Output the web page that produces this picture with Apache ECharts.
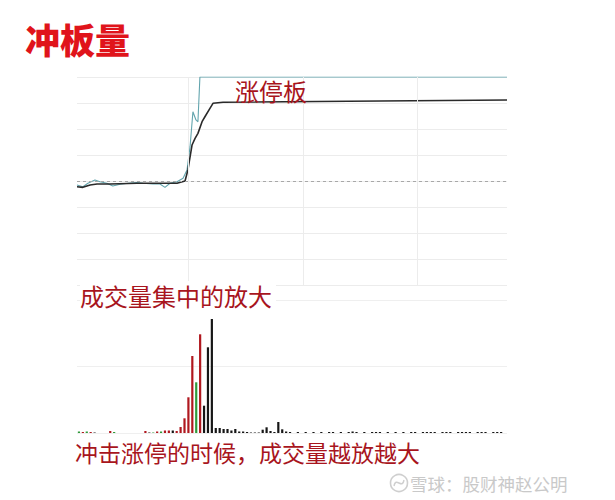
<!DOCTYPE html>
<html>
<head>
<meta charset="utf-8">
<script src="https://cdn.jsdelivr.net/npm/echarts@6/dist/echarts.min.js"></script>
<style>
html,body{margin:0;padding:0;background:#fff;}
#c{width:615px;height:500px;}
</style>
</head>
<body>
<div id="c"></div>
<script>
// ---- data ----
// price line (teal): minute of session, % change vs previous close
const priceMin = [0, 3.3, 6.1, 10, 12.8, 16.7, 20, 24, 28.5, 33.5, 36.8, 42.4, 46.3, 49.1, 51.9, 55.8, 59.2, 61.4, 63.1, 64.7, 66.4, 67.5, 68.6, 240];
const pricePct = [-0.38, -0.55, -0.22, 0.10, -0.07, -0.22, -0.48, -0.32, -0.22, -0.16, -0.22, -0.29, -0.29, -0.61, -0.22, -0.07, 0.26, 1.06, 3.30, 6.66, 5.87, 5.70, 10.0, 10.0];
// average price line (black)
const avgMin = [0, 3.3, 7.3, 11.2, 18.4, 33.5, 48, 55.8, 60.3, 61.9, 64.2, 65.9, 67.5, 69.8, 71.4, 74.2, 75.9, 81.5, 240];
const avgPct = [-0.55, -0.61, -0.38, -0.29, -0.29, -0.22, -0.22, -0.22, 0, 1.06, 3.46, 4.1, 4.58, 5.7, 6.18, 6.99, 7.47, 7.57, 7.79];
// time grid lines (minutes)
const timeLines = [62, 126, 190];
// volume bars (relative units) and direction (1 up, -1 down, 0 flat)
const volValues = [
  1.5,1,1.5,1,0.5,0,0,0,2,1,
  0,0,0,0,0,0,0,2,0.5,0.5,
  1.5,1.5,2.5,2.5,2.5,2,6,14.7,35.7,77,
  50.7,98.7,27.3,85.7,114,5,5,4,4,2.5,
  4,1.5,1.5,1,0.5,0.5,0.5,3.3,5.7,2,
  1,11,3.7,1.5,1,0,1,0,1,0,
  1,0,1,0,1,1,0,1,0,1,
  1.5,1,0,1,0,1,1,1,0,1,
  0,1,0,1,0,1,1,0,1,1,
  1,1,0,1,1,1,0,1,1,1,
  1,0,1,1,1,0,1,1,1,0
];
const volDir = [
  -1,1,-1,1,0,0,0,0,1,-1,
  0,0,0,0,0,0,0,1,0,-1,
  1,-1,1,1,0,1,1,1,1,1,
  -1,1,0,0,0,0,0,0,0,0,
  0,0,0,0,0,0,0,0,0,0,
  0,0,0,0,0,0,0,0,0,0,
  0,0,0,0,0,0,0,0,0,0,
  0,0,0,0,0,0,0,0,0,0,
  0,0,0,0,0,0,0,0,0,0,
  0,0,0,0,0,0,0,0,0,0,
  0,0,0,0,0,0,0,0,0,0
];
const volCats = volValues.map((v, i) => String(i));

const titleText = '冲板量';
const noteLimit = '涨停板';
const noteVolume = '成交量集中的放大';
const noteBottom = '冲击涨停的时候，成交量越放越大';
const watermark = '雪球：股财神赵公明';

// ---- chart ----
const FONT = '"Noto Sans CJK SC", "Noto Sans", sans-serif';
const dirColor = d => d > 0 ? '#b0181f' : (d < 0 ? '#2f9a3a' : '#161616');

const chart = echarts.init(document.getElementById('c'), null, {renderer: 'svg'});
chart.setOption({
  animation: false,
  backgroundColor: '#ffffff',
  title: {
    text: titleText, left: 20, top: 16,
    textStyle: {fontFamily: FONT, fontSize: 35, fontWeight: 900, color: '#e0141b'}
  },
  grid: [
    {left: 77, top: 77, width: 430, height: 208},
    {left: 77, top: 300, width: 430, height: 133}
  ],
  xAxis: [
    {type: 'value', gridIndex: 0, min: 0, max: 240,
     axisLine: {show: false}, axisTick: {show: false}, axisLabel: {show: false}, splitLine: {show: false}},
    {type: 'category', gridIndex: 1, data: volCats, boundaryGap: true,
     axisLine: {show: false}, axisTick: {show: false}, axisLabel: {show: false}, splitLine: {show: false}}
  ],
  yAxis: [
    {type: 'value', gridIndex: 0, min: -10, max: 10, interval: 2.5,
     axisLine: {show: false}, axisTick: {show: false}, axisLabel: {show: false},
     splitLine: {show: true, lineStyle: {color: '#ececec', width: 1}}},
    {type: 'value', gridIndex: 1, min: 0, max: 133, interval: 66.5,
     axisLine: {show: false}, axisTick: {show: false}, axisLabel: {show: false},
     splitLine: {show: true, lineStyle: {color: '#efefef', width: 1}}}
  ],
  series: [
    {
      type: 'line', xAxisIndex: 0, yAxisIndex: 0, z: 3,
      showSymbol: false, symbol: 'none',
      data: priceMin.map((m, i) => [m, pricePct[i]]),
      lineStyle: {color: '#62a4ad', width: 1.1},
      markLine: {
        silent: true, symbol: 'none', label: {show: false}, animation: false,
        data: timeLines.map(t => ({xAxis: t, lineStyle: {color: '#ececec', width: 1, type: 'solid'}}))
          .concat([{yAxis: 0, lineStyle: {color: '#a8a8a8', width: 1, type: [3, 3]}}])
      }
    },
    {
      type: 'line', xAxisIndex: 0, yAxisIndex: 0, z: 4,
      showSymbol: false, symbol: 'none',
      data: avgMin.map((m, i) => [m, avgPct[i]]),
      lineStyle: {color: '#2a2a2a', width: 1.6}
    },
    {
      type: 'bar', xAxisIndex: 1, yAxisIndex: 1, barWidth: 2.2,
      data: volValues.map((v, i) => ({value: v, itemStyle: {color: dirColor(volDir[i])}}))
    }
  ],
  graphic: [
    {type: 'text', x: 235, y: 90, z: 10,
     style: {text: noteLimit, fill: '#a8151d', fontFamily: FONT, fontSize: 24, verticalAlign: 'middle', align: 'left'}},
    {type: 'text', x: 80, y: 295, z: 10,
     style: {text: noteVolume, fill: '#a8151d', fontFamily: FONT, fontSize: 24, verticalAlign: 'middle', align: 'left',
             backgroundColor: '#ffffff', padding: [2, 4, 2, 0]}},
    {type: 'text', x: 75, y: 452, z: 10,
     style: {text: noteBottom, fill: '#a8151d', fontFamily: FONT, fontSize: 23, verticalAlign: 'middle', align: 'left',
             backgroundColor: '#ffffff', padding: [2, 2, 2, 0]}},
    {type: 'circle', shape: {cx: 399, cy: 483, r: 8.5}, z: 10,
     style: {fill: 'none', stroke: '#cfcfcf', lineWidth: 1.6}},
    {type: 'bezierCurve', z: 10,
     shape: {x1: 394, y1: 486, x2: 404, y2: 480, cpx1: 396, cpy1: 476, cpx2: 402, cpy2: 490},
     style: {fill: 'none', stroke: '#cfcfcf', lineWidth: 1.4}},
    {type: 'text', x: 410, y: 483, z: 10,
     style: {text: watermark, fill: '#c9c9c9', fontFamily: FONT, fontSize: 17.5, verticalAlign: 'middle', align: 'left'}}
  ]
});
</script>
</body>
</html>
